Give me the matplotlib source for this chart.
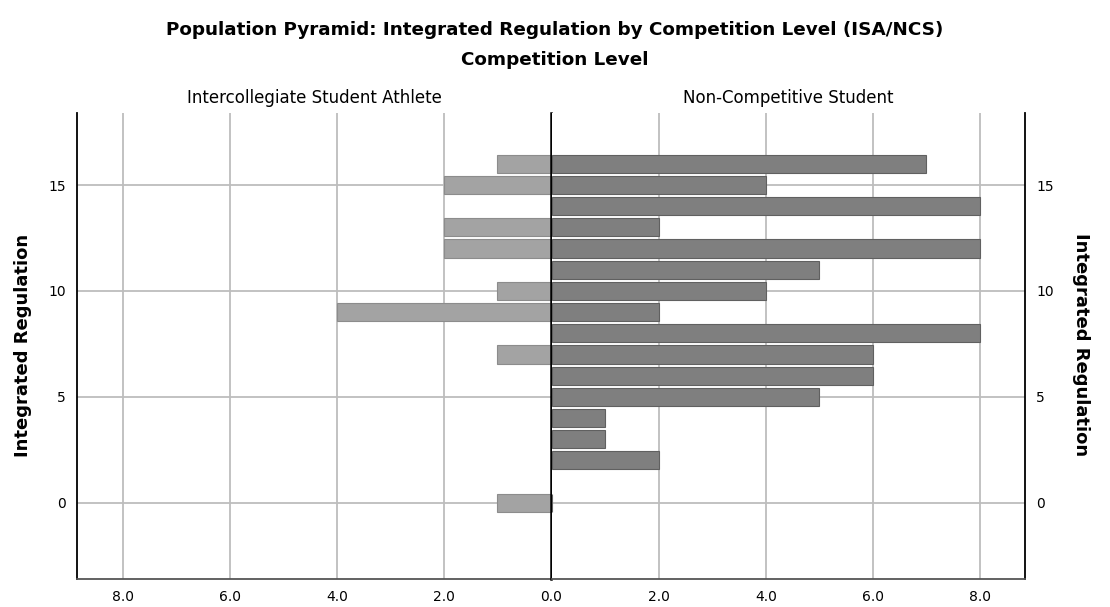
import matplotlib
matplotlib.use("Agg")
import matplotlib.pyplot as plt

# values
scores = [16, 15, 14, 13, 12, 11, 10, 9, 8, 7, 6, 5, 4, 3, 2, 0]
isa_counts = [1, 2, 0, 2, 2, 0, 1, 4, 0, 1, 0, 0, 0, 0, 0, 1]
ncs_counts = [7, 4, 8, 2, 8, 5, 4, 2, 8, 6, 6, 5, 1, 1, 2, 0]
groups = ["Intercollegiate Student Athlete", "Non-Competitive Student"]
x_ticks = [0, 2, 4, 6, 8]
y_ticks = [0, 5, 10, 15]

W, H = 1110, 607
fig = plt.figure(figsize=(W / 100, H / 100), dpi=100)

bottom = 1 - 579 / H
height = (579 - 113) / H
ax_l = fig.add_axes([77 / W, bottom, (551 - 77) / W, height])
ax_r = fig.add_axes([552 / W, bottom, (1025 - 552) / W, height])

grid_c = '#bdbdbd'
for ax, counts, col, edge in [(ax_l, isa_counts, '#a3a3a3', '#8c8c8c'),
                              (ax_r, ncs_counts, '#7f7f7f', '#606060')]:
    ax.set_xlim(0, 8.85)
    ax.set_ylim(-3.6, 18.4)
    for v in x_ticks[1:]:
        ax.axvline(v, color=grid_c, lw=1.3, zorder=0)
    for v in y_ticks:
        ax.axhline(v, color=grid_c, lw=1.3, zorder=0)
    ax.barh(scores, counts, height=0.86, color=col, edgecolor=edge,
            linewidth=0.8, zorder=2)
    ax.set_yticks(y_ticks)
    ax.tick_params(length=0, pad=8, labelsize=10)
    ax.spines['top'].set_visible(False)
    ax.spines['bottom'].set_color('#555555')
    ax.spines['bottom'].set_linewidth(1.3)

ax_l.set_xticks(x_ticks)
ax_l.set_xticklabels(['%.1f' % v for v in x_ticks])
ax_r.set_xticks(x_ticks[1:])
ax_r.set_xticklabels(['%.1f' % v for v in x_ticks[1:]])

ax_l.invert_xaxis()
ax_l.spines['right'].set_linewidth(1.8)
ax_l.spines['right'].set_color('black')
ax_l.spines['right'].set_zorder(5)
ax_l.spines['left'].set_color('black')
ax_l.spines['left'].set_linewidth(1.3)
ax_r.spines['left'].set_visible(False)
ax_r.spines['right'].set_color('black')
ax_r.spines['right'].set_linewidth(1.3)
ax_r.yaxis.tick_right()

ax_l.set_title(groups[0], fontsize=12, pad=7)
ax_r.set_title(groups[1], fontsize=12, pad=7)

fig.text(0.5, 1 - 30 / H, "Population Pyramid: Integrated Regulation by Competition Level (ISA/NCS)",
         ha='center', va='center', fontsize=13.2, fontweight='bold')
fig.text(0.5, 1 - 60 / H, "Competition Level", ha='center', va='center',
         fontsize=13.2, fontweight='bold')
fig.text(23 / W, 1 - 345 / H, "Integrated Regulation", rotation=90,
         ha='center', va='center', fontsize=13, fontweight='bold')
fig.text(1081 / W, 1 - 345 / H, "Integrated Regulation", rotation=270,
         ha='center', va='center', fontsize=13, fontweight='bold')

fig.savefig("out.png", dpi=100)
